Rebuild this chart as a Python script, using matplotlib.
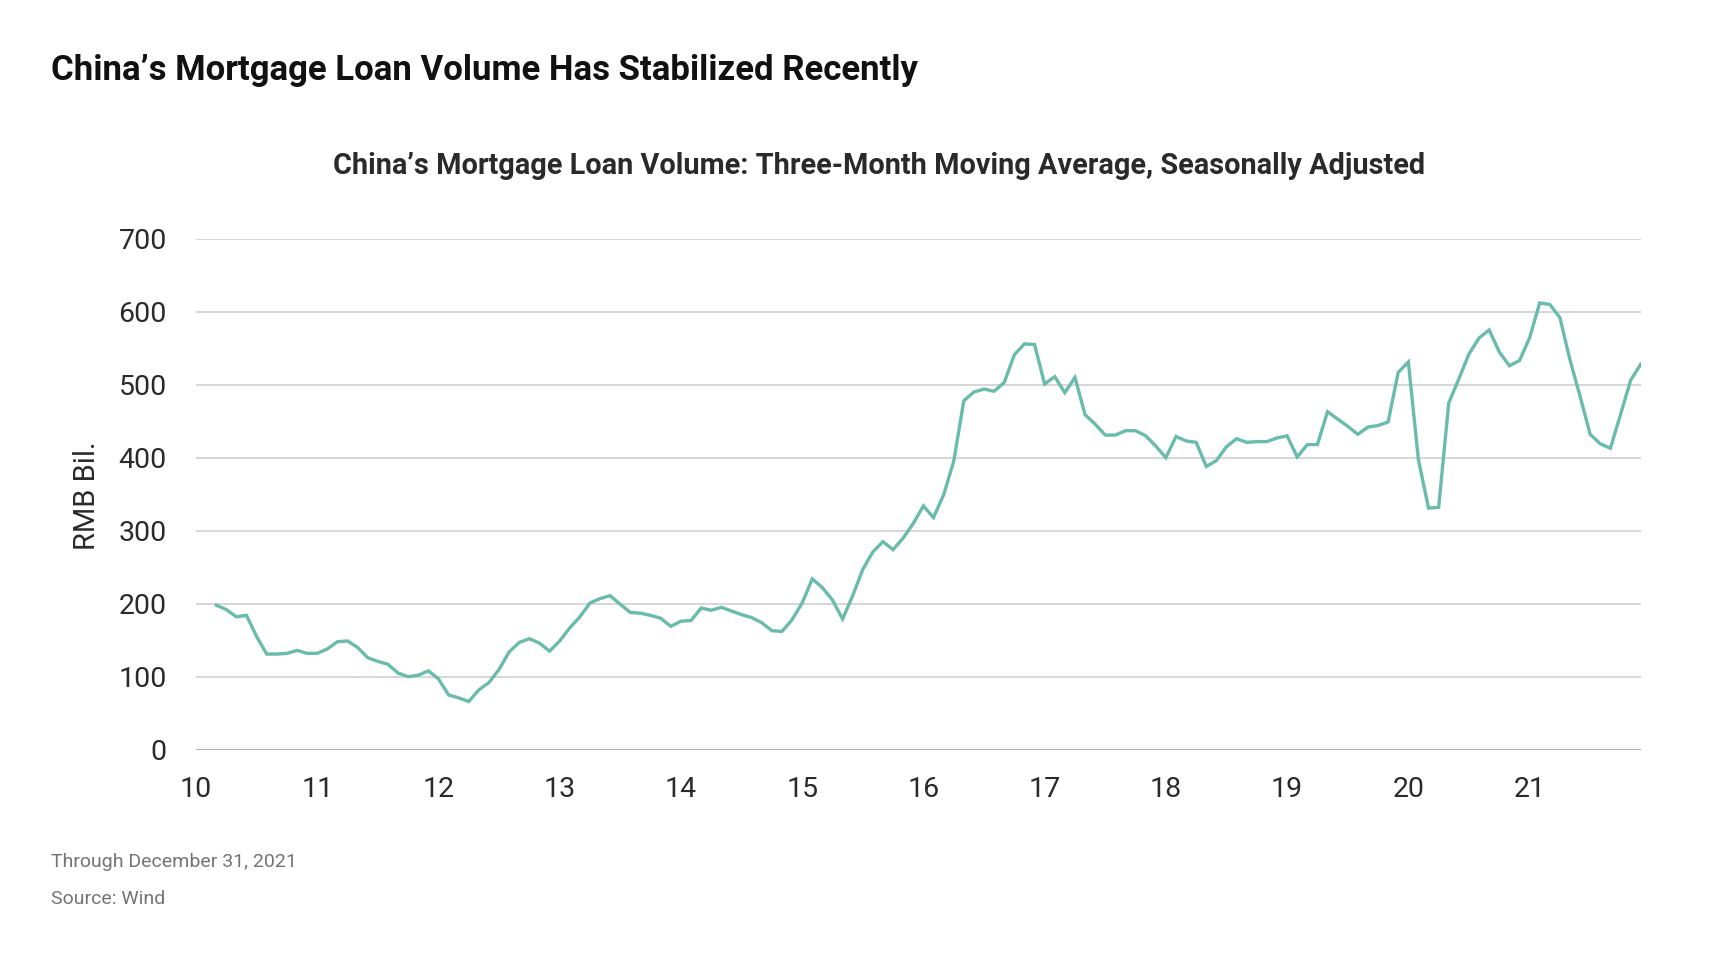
import matplotlib
matplotlib.use("Agg")
import matplotlib.pyplot as plt
import numpy as np

# ---- data ----
start_month_index = 2  # March 2010 (Jan 2010 = 0)
values = [
    198, 192, 182, 184, 155, 131, 131, 132, 136, 132,            # Mar-Dec 2010
    132, 138, 148, 149, 140, 126, 121, 117, 105, 100, 102, 108,  # 2011
    97, 75, 71, 66, 82, 92, 110, 134, 147, 152, 146, 135,        # 2012
    149, 167, 182, 201, 207, 211, 199, 188, 187, 184, 180, 169,  # 2013
    176, 177, 194, 191, 195, 190, 185, 181, 174, 163, 162, 178,  # 2014
    201, 234, 222, 205, 179, 211, 247, 271, 285, 274, 290, 310,  # 2015
    334, 318, 349, 395, 478, 490, 494, 491, 503, 541, 556, 555,  # 2016
    501, 511, 489, 510, 459, 446, 431, 431, 437, 437, 430, 416,  # 2017
    400, 429, 423, 421, 388, 396, 415, 426, 421, 422, 422, 427,  # 2018
    430, 401, 418, 418, 463, 453, 443, 432, 442, 444, 449, 517,  # 2019
    531, 397, 331, 332, 475, 508, 542, 564, 575, 545, 526, 533,  # 2020
    564, 612, 610, 592, 534, 484, 432, 419, 413, 459, 506, 528,  # 2021
]
year_labels = ["10", "11", "12", "13", "14", "15", "16", "17", "18", "19", "20", "21"]
y_ticks = [0, 100, 200, 300, 400, 500, 600, 700]

title = "China\u2019s Mortgage Loan Volume Has Stabilized Recently"
subtitle = "China\u2019s Mortgage Loan Volume: Three-Month Moving Average, Seasonally Adjusted"
ylabel = "RMB Bil."
note1 = "Through December 31, 2021"
note2 = "Source: Wind"

W, H, DPI = 1732, 960, 100
fig = plt.figure(figsize=(W / DPI, H / DPI), dpi=DPI)
ax = fig.add_axes([196 / W, 1 - 749.7 / H, (1640.7 - 196) / W, (749.7 - 238.7) / H])

x = np.arange(start_month_index, start_month_index + len(values))
ax.plot(x, values, color="#69BCAB", lw=2.4, solid_joinstyle="miter")

ax.set_xlim(0, 143)
ax.set_ylim(0, 700)
ax.set_yticks(y_ticks)
ax.set_yticklabels([str(v) for v in y_ticks])
ax.set_xticks(np.arange(0, 12 * len(year_labels), 12))
ax.set_xticklabels(year_labels)

for v in y_ticks[1:]:
    ax.axhline(v, color="#D3D3D3", lw=1.3, zorder=0)
ax.axhline(0, color="#B0B0B0", lw=1.6, zorder=0)

for s in ax.spines.values():
    s.set_visible(False)
ax.tick_params(axis="both", length=0, labelsize=20.5, labelcolor="#2A2A2A")
ax.tick_params(axis="y", pad=21)
ax.tick_params(axis="x", pad=19)
for lab in ax.get_xticklabels() + ax.get_yticklabels():
    lab.set_family("Roboto")

fig.text(86.7 / W, 1 - 495.5 / H, ylabel, rotation=90, fontsize=21, color="#2A2A2A",
         family="Roboto", ha="center", va="center")

fig.text(51 / W, 1 - 80 / H, title, fontsize=25, fontweight="bold", family="Roboto",
         color="#111111", ha="left", va="baseline")
fig.text(878.6 / W, 1 - 173.5 / H, subtitle, fontsize=20.8, fontweight="bold", family="Roboto",
         color="#2A2A2A", ha="center", va="baseline")
fig.text(51 / W, 1 - 867 / H, note1, fontsize=14, color="#747474", family="Roboto",
         ha="left", va="baseline")
fig.text(51 / W, 1 - 903.5 / H, note2, fontsize=14, color="#747474", family="Roboto",
         ha="left", va="baseline")

fig.savefig("out.png", dpi=DPI)
